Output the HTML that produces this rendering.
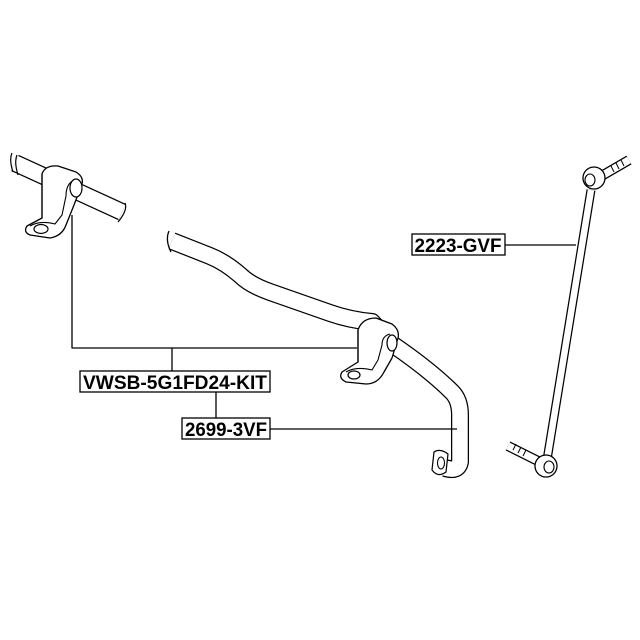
<!DOCTYPE html>
<html><head><style>
html,body{margin:0;padding:0;background:#fff;}
svg{display:block;}
text{font-family:"Liberation Sans",Arial,sans-serif;font-weight:bold;font-size:19px;}
</style></head><body>
<svg width="640" height="640" viewBox="0 0 640 640" xmlns="http://www.w3.org/2000/svg">
<g fill="none" stroke="#000" stroke-linecap="butt" stroke-linejoin="round">
<!-- left bar -->
<path d="M15,163 L122,212" stroke-width="18"/>
<path d="M15,163 L122,212" stroke="#fff" stroke-width="15.5"/>
<path d="M12,153 Q9,160 13,172 M17,155 Q14,162 18,175" stroke-width="1.2"/>
<path d="M125,203 Q128,210 118,222" stroke-width="1.2"/>
<!-- left bracket -->
<path d="M42,174 Q45,165 58,166 L76,172 Q84,177 82,184 L74,205 L66,225 Q62,236 50,238 L30,235 Q23,232 27,226 L42,218 Z" fill="#fff" stroke-width="1.3"/>
<path d="M42,174 L42,218" stroke-width="1.2"/>
<path d="M30,226 Q40,220 55,224 L62,215 L66,196 Q66,184 74,180" stroke-width="1.1"/>
<ellipse cx="41" cy="229" rx="7" ry="4.5" stroke-width="1.2" fill="#fff"/>
<ellipse cx="76" cy="188" rx="6" ry="9" stroke-width="1.2" fill="#fff"/>
<!-- main bar -->
<path d="M172,241 L210,256 Q225,262 240,275 Q250,285 270,292 L330,313 Q350,320 372,322 L392,344 Q430,370 452,392 Q460,400 460,415 L460,462 Q458,472 445,468" stroke-width="18"/>
<path d="M172,241 L210,256 Q225,262 240,275 Q250,285 270,292 L330,313 Q350,320 372,322 L392,344 Q430,370 452,392 Q460,400 460,415 L460,462 Q458,472 445,468" stroke="#fff" stroke-width="15.5"/>
<path d="M169,231 Q165,240 171,252" stroke-width="1.3"/>
<!-- end eye -->
<path d="M434,452 Q440,448 448,454 L446,472 Q438,478 432,470 Z" fill="#fff" stroke-width="1.2"/>
<ellipse cx="441" cy="463" rx="3.5" ry="6" stroke-width="1.1"/>
<!-- right bracket -->
<path d="M358,330 Q362,318 376,318 L392,324 Q400,330 398,338 L392,358 L384,372 Q378,384 366,384 L346,382 Q338,378 342,372 L358,362 Z" fill="#fff" stroke-width="1.3"/>
<path d="M358,330 L358,362" stroke-width="1.2"/>
<path d="M346,372 Q356,366 372,370 L378,360 L382,345 Q382,336 390,334" stroke-width="1.1"/>
<ellipse cx="354" cy="375" rx="6" ry="4" stroke-width="1.2" fill="#fff"/>
<ellipse cx="392" cy="343" rx="5" ry="8" stroke-width="1.2" fill="#fff"/>
<!-- stabilizer link -->
<path d="M591,190 L547,460" stroke-width="9"/>
<path d="M591,190 L547,460" stroke="#fff" stroke-width="6.5"/>
<path d="M598,178 L629,160" stroke-width="10"/>
<path d="M598,178 L629,160" stroke="#fff" stroke-width="7.5"/>
<path d="M611,166 l3,6 M616,163 l3,6 M621,160 l3,6" stroke-width="1"/>
<circle cx="594" cy="178" r="11" fill="#fff" stroke-width="1.3"/>
<ellipse cx="590" cy="180" rx="5" ry="6" stroke-width="1.1"/>
<path d="M540,462 L508,446" stroke-width="10"/>
<path d="M540,462 L508,446" stroke="#fff" stroke-width="7.5"/>
<path d="M516,444 l-3,6 M521,447 l-3,6 M526,450 l-3,6" stroke-width="1"/>
<circle cx="546" cy="466" r="11" fill="#fff" stroke-width="1.3"/>
<ellipse cx="549" cy="467" rx="5" ry="6" stroke-width="1.1"/>
<!-- leader lines -->
<path d="M72,215 L72,348 L357,348 M172,348 L172,371 M216,391 L216,418 M270,429 L457,429 M505,245 L576,245" stroke-width="1.3"/>
</g>
<rect x="80" y="371" width="190" height="21" fill="#fff" stroke="#000" stroke-width="1.3"/>
<text x="175" y="389" text-anchor="middle" textLength="184" lengthAdjust="spacingAndGlyphs">VWSB-5G1FD24-KIT</text>
<rect x="182" y="418" width="88" height="21" fill="#fff" stroke="#000" stroke-width="1.3"/>
<text x="226" y="436" text-anchor="middle" textLength="82" lengthAdjust="spacingAndGlyphs">2699-3VF</text>
<rect x="412" y="234" width="93" height="21" fill="#fff" stroke="#000" stroke-width="1.3"/>
<text x="458" y="252" text-anchor="middle" textLength="87" lengthAdjust="spacingAndGlyphs">2223-GVF</text>
</svg>
</body></html>
